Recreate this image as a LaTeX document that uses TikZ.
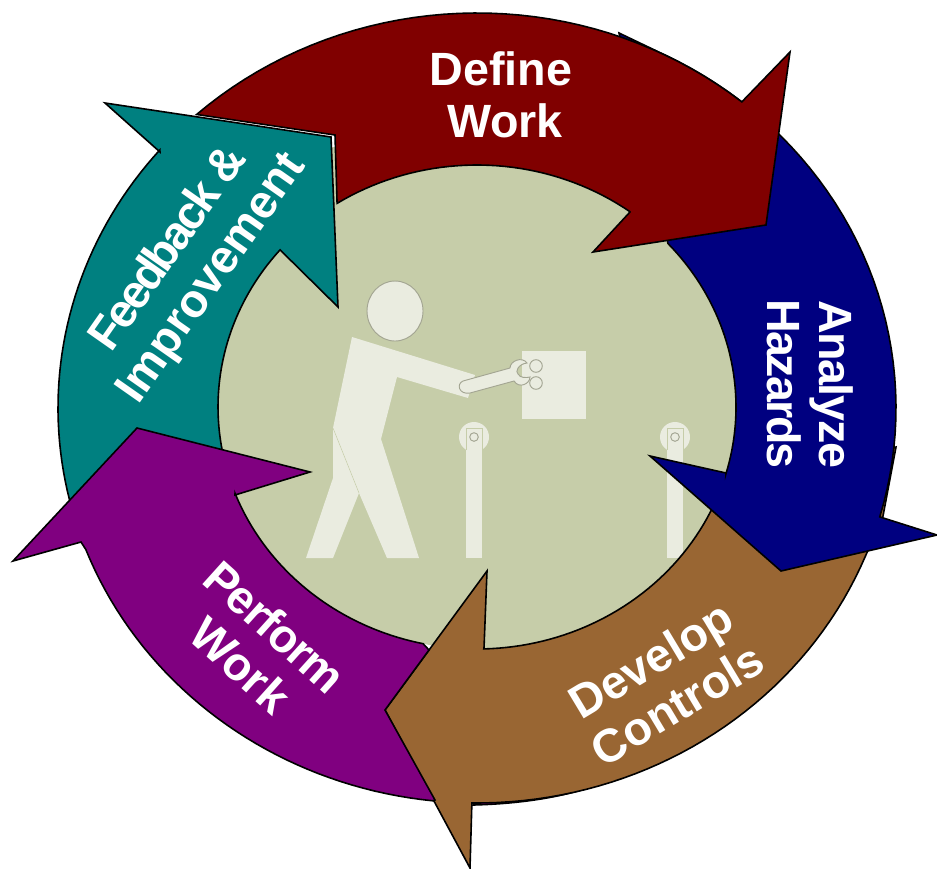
\documentclass[tikz,border=0pt]{standalone}
\usepackage{fontspec}
\setmainfont{Liberation Sans}
\newfontfamily\tightfont[LetterSpace=-3]{Liberation Sans}
\newfontfamily\tighterfont[LetterSpace=-4.5]{Liberation Sans}
\newfontfamily\tightestfont[LetterSpace=-6.5]{Liberation Sans}
\definecolor{definered}{HTML}{800000}
\definecolor{hazardblue}{HTML}{000080}
\definecolor{controlbrown}{HTML}{996633}
\definecolor{performpurple}{HTML}{800080}
\definecolor{feedbackteal}{HTML}{008080}
\definecolor{discgreen}{HTML}{C6CDA9}
\definecolor{figurewhite}{HTML}{EAECE0}
\definecolor{toolgray}{HTML}{A3A592}
\begin{document}
\begin{tikzpicture}[x=0.75pt,y=-0.75pt,samples=40,
declare function={ox(\t)=477+419*cos(\t);oy(\t)=408-395*sin(\t);
ix(\t)=477+259*cos(\t);iy(\t)=407-242*sin(\t);},
ringarrow/.style={draw=black,line width=1.2pt,line join=miter,miter limit=20},
figurepart/.style={fill=figurewhite},
toolpart/.style={fill=figurewhite,draw=toolgray,line width=0.7pt},
caption/.style={text=white,align=center,inner sep=0pt,font=\fontsize{35}{39}\selectfont\bfseries}]
\useasboundingbox (0,0) rectangle (937,868);
% centre disc and worker
\fill[discgreen] (477,407) ellipse [x radius=259,y radius=242];
\fill[white] (332,134) rectangle (337,147);
\fill[discgreen] (332,147) rectangle (337,206);
\draw[toolpart] (395,311) ellipse [x radius=28,y radius=30];
\fill[figurepart] (352,337) -- (475,375) -- (468,398) -- (397,377) -- (381,439) -- (419,558) -- (387,558)
  -- (359,493) -- (333,558) -- (306,558) -- (333,478) -- (333,428) -- cycle;
\draw[discgreen,line width=0.4pt] (333,428) -- (359,493);
\fill[figurepart] (522,351) rectangle (586,419);
\draw[toolpart] (463,381) -- (510,368) .. controls (510,361) and (522,356) .. (527,363) .. controls (518,364) and (515,372) .. (518,374)
  .. controls (520,378) and (526,378) .. (530,377) .. controls (530,384) and (519,389) .. (514,381) -- (470,393)
  .. controls (459,395) and (456,384) .. (463,381) -- cycle;
\draw[toolpart] (536,366) circle [radius=6.3];
\draw[toolpart] (536,383) circle [radius=6.3];
% two stands
\foreach \sx in {474,675} {
  \fill[figurepart] (\sx,437) circle [radius=15];
  \fill[figurepart] (\sx-8,428) rectangle (\sx+8,558);
  \draw[discgreen,line width=0.4pt] (\sx-8,450) -- (\sx-8,428) -- (\sx+8,428) -- (\sx+8,450);
  \draw[toolpart,fill=none] (\sx,437) circle [radius=4.3];
}
% ring of arrows, purple stops at the edge of the brown head
\draw[ringarrow,fill=performpurple] (473,805) .. controls (510,804) and (545,800) .. (578,791) -- (500,770) -- cycle;
\draw[ringarrow,fill=controlbrown] (896,447) -- (883,516) -- plot[domain=-22:-90.7] ({ox(\x)},{oy(\x)}) -- (470,868) -- (385,710) -- (487,571) -- (484,648)
  -- plot[domain=-88.5:-24] ({ix(\x)},{iy(\x)}) -- cycle;
\draw[ringarrow,fill=hazardblue] (619,33) -- plot[domain=64:-16] ({ox(\x)},{oy(\x)}) -- (937,535) -- (781,571) -- (650,456) -- (726,473)
  -- plot[domain=-16:42.5] ({ix(\x)},{iy(\x)}) -- cycle;
\draw[ringarrow,fill=definered] plot[domain=132:50.8] ({ox(\x)},{oy(\x)}) -- (790,52) -- (766,225) -- (593,252) -- (630,212)
  -- plot[domain=53.8:122.7] ({ix(\x)},{iy(\x)}) -- (335,135) -- cycle;
\draw[ringarrow,fill=feedbackteal] (331,137) -- (105,103) -- (160,152) -- plot[domain=139.2:195] ({ox(\x)},{oy(\x)})
  -- plot[domain=200:139.5] ({ix(\x)},{iy(\x)}) -- (338,307) -- cycle;
\draw[ringarrow,fill=performpurple] (13,561) -- (137,428) -- (310,472) -- (235,495) -- plot[domain=200.9:258] ({ix(\x)},{iy(\x)})
  -- (429,650) -- (385,710) -- (435,800) -- plot[domain=264:201] ({ox(\x)},{oy(\x)}) -- (81,542) -- cycle;
% captions
\node[caption] (define) at (501,95) {Define\\\hspace*{6pt}Work};
\node[caption,rotate=-90] (analyze) at (810,384) {\tightfont\bfseries Analyze\\\tighterfont\bfseries Hazards};
\node[caption,rotate=31] (develop) at (664,682) {Develop\\Controls};
\node[caption,rotate=-42] (perform) at (258,646) {\tightfont\bfseries Perform\\Work};
\node[caption,rotate=55] (feedback) at (191,264) {\tightestfont\bfseries Feedback \&\\Improvement};
\end{tikzpicture}
\end{document}
